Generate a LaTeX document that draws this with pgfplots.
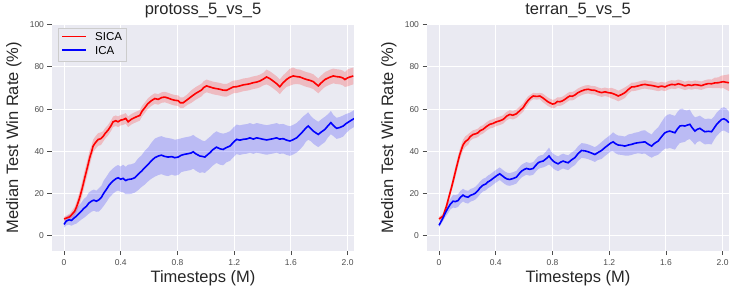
\documentclass[border=0pt]{standalone}
\usepackage{fontspec}
\setmainfont{Liberation Sans}
\usepackage{pgfplots}
\usepackage{pgfplotstable}
\pgfplotsset{compat=1.18}
\definecolor{bgc}{HTML}{EAEAF2}
\definecolor{txt}{HTML}{262626}
\definecolor{tk}{HTML}{4D4D4D}

\pgfplotstableread{
x m e
0 8 1
0.02 8.5 1.2
0.04 9 1.5
0.06 10.5 1.8
0.075 11.7 2
0.09 14 2.5
0.11 18 3
0.13 23 3.5
0.146 27.5 3.5
0.165 32.5 3.5
0.181 37 3.5
0.195 40 3
0.205 42.5 3
0.22 44 3
0.24 45.6 3
0.26 46 3
0.275 47 2.5
0.29 48.5 2.5
0.31 50 2.5
0.33 52 2.5
0.346 54 2.5
0.365 54.5 2.5
0.381 54 2.5
0.40 54.8 2.5
0.416 55 2.5
0.435 55.6 2.5
0.452 54 2.5
0.475 55.2 2.5
0.499 56 2.5
0.515 56.5 2.5
0.534 57 2.5
0.55 59 2.5
0.569 60.6 2.5
0.59 62.5 2.5
0.616 64 2.5
0.64 65 2.5
0.664 64.6 2.5
0.69 65.5 2.5
0.711 65.7 2.5
0.735 65.2 2.5
0.758 64.6 2.5
0.78 64.2 2.5
0.805 64 2.5
0.82 63 2.5
0.84 63 2.5
0.87 64.5 2.5
0.899 66 3
0.93 67.5 3
0.969 69 3
0.985 70.2 3
1.005 71 3
1.028 70.5 3
1.052 70 3
1.075 69.7 3
1.099 69.4 3
1.12 69 3
1.146 68.9 3
1.17 69.7 3
1.193 70.5 3
1.215 70.6 3
1.24 71 3
1.265 71.5 3
1.287 71.7 3
1.31 72 3
1.334 72.5 3
1.358 72.8 3
1.381 73.3 3
1.405 74.2 3
1.428 75.2 3.5
1.45 74.5 3.5
1.475 73.3 3.5
1.50 72 3.5
1.522 70.6 3.5
1.545 72.5 3.5
1.569 74 3.5
1.59 75 4
1.616 75.7 4
1.64 75.4 3.5
1.664 75.2 3.5
1.69 74.5 3.5
1.711 74 3.5
1.735 73.6 3.5
1.758 73 3.5
1.775 72 3.5
1.793 71 3.5
1.815 72.5 3.5
1.84 74 3.5
1.87 75 3.5
1.899 75.7 3.5
1.92 75.4 3.5
1.946 75.2 3.5
1.965 74.8 3.5
1.981 74 3.5
2.0 74.8 4
2.016 75.2 4
2.04 75.7 4
}\psica

\pgfplotstableread{
x m e
0 5.4 1.5
0.016 7 2
0.035 7.6 2.3
0.052 7.3 2.5
0.07 8.4 3
0.087 9.3 3.5
0.105 10.6 3.8
0.122 11.7 4
0.14 13 4.5
0.158 14 4.5
0.175 15.5 5
0.193 16.4 5
0.21 16.9 5
0.228 16.4 5
0.245 17 5.5
0.264 18.3 5.5
0.28 20.2 6
0.299 22 6
0.32 24.2 6
0.346 26 6
0.365 27 6
0.381 27.5 6
0.40 26.8 6
0.416 27.2 6.5
0.435 26.2 6.5
0.452 26.7 7
0.475 26.9 7
0.499 27.5 7
0.52 29 7.5
0.546 30.6 7.5
0.57 32.3 8
0.593 33.8 8
0.615 35.5 8.5
0.64 37 9
0.665 37.8 9
0.687 38.2 9
0.71 37.6 9
0.734 37.3 9
0.76 37.5 8.5
0.781 37 8.5
0.805 37.3 8.5
0.828 38.2 8
0.85 38.6 8
0.875 38.9 8
0.895 39.2 8
0.911 39.8 8
0.93 38.8 8
0.958 37.8 8
0.975 37.6 7.5
0.993 37.3 7.5
1.01 38.3 7.5
1.028 39.3 7.5
1.05 40.8 7.5
1.075 42 7.5
1.1 41.2 7.5
1.122 40.9 7.5
1.145 41.8 7
1.17 42.5 7
1.195 44.3 7
1.217 45.7 7
1.24 45.3 7
1.264 45.7 7
1.29 45.9 7
1.311 46.4 7
1.335 45.8 7
1.358 46.4 7
1.38 46.1 7
1.405 45.7 7
1.43 45.4 7
1.452 45.7 7
1.475 46 7
1.499 46.4 7
1.52 45.8 7
1.546 46 7
1.57 45.3 7
1.593 44.9 7
1.615 45.5 7
1.64 46.4 7
1.665 48 7
1.687 49.6 7
1.705 51 6.5
1.722 52 6.5
1.74 50.8 6
1.758 49.6 6
1.775 48.8 6
1.793 48 6
1.815 49.2 6
1.84 50.4 6
1.86 52 5.5
1.882 53.6 5.5
1.9 52.2 5
1.922 50.9 5
1.945 51.3 5
1.969 52 5
1.99 53.2 4.5
2.016 54.3 4
2.045 55.5 4
}\pica

\pgfplotstableread{
x m e
0 8 1
0.028 9.3 1.2
0.052 14 1.5
0.07 18.5 2
0.087 22.7 2
0.105 27.5 2.5
0.122 32.2 2.5
0.146 38.5 2.5
0.169 43 2.5
0.185 44.6 2.5
0.205 45.6 2.5
0.22 47 2
0.24 48 2
0.258 48.3 2
0.275 48.8 2
0.29 49.8 2
0.31 50.4 2
0.335 51.8 2
0.358 52.8 2
0.38 53.2 2
0.405 54 2
0.43 54.5 2
0.452 55.1 2
0.475 56.6 2
0.499 57.5 2
0.52 57.1 2
0.546 57.8 2
0.57 59.3 2
0.593 60.7 2
0.61 62.5 2
0.628 64.1 2
0.645 65.3 1.5
0.664 66.2 1.5
0.69 66 1.5
0.711 66.2 1.5
0.73 65.4 2
0.746 64.6 2
0.765 63.6 2
0.781 63 2
0.8 62.4 2
0.816 62.6 2
0.835 63.6 2
0.852 63.5 2
0.87 63.9 2
0.887 64.6 2
0.905 65.5 2
0.922 66.2 2
0.94 66.1 2
0.958 66.7 2
0.98 67.8 2
1.005 68.6 2
1.03 69.2 2
1.052 69.4 2
1.075 69 2
1.099 68.9 2
1.12 68.3 2
1.146 67.8 2
1.17 68.2 2
1.193 67.8 2
1.215 67.6 2.5
1.24 67 2.5
1.264 66.2 2.5
1.29 67 2.5
1.311 67.8 2.5
1.335 69.3 2
1.358 70.5 2
1.38 70.6 2
1.405 71 2
1.43 71.5 2
1.452 71.7 2
1.475 71.4 2
1.499 71.2 2
1.52 70.9 2
1.546 70.5 2
1.57 70.9 2
1.593 70.5 2
1.615 71.2 2
1.64 71.7 2
1.665 71.5 2
1.687 72 2
1.71 71.6 2
1.734 71 2
1.76 71.5 2
1.781 71.2 2
1.805 71.6 2
1.828 71.4 2
1.85 71.1 2
1.875 71.7 2
1.9 72.1 2
1.922 72 2
1.945 72.4 2.5
1.969 72.5 2.5
1.99 72.8 3
2.005 73 3
2.025 72.7 3.5
2.045 72.5 4
}\tsica

\pgfplotstableread{
x m e
0 5 1
0.028 8.5 1.5
0.045 11 2
0.064 13.3 2.5
0.08 15 2.5
0.099 16.4 3
0.115 16.2 3
0.134 16.7 3
0.15 18.2 3
0.169 19.3 3
0.185 18.6 3
0.205 18.3 3
0.222 19.2 3
0.24 19.6 3
0.258 20.3 3
0.275 21.5 3
0.29 22.8 3
0.31 24 3
0.328 24.5 3
0.346 25.6 3
0.362 26.2 3
0.381 27.2 3
0.405 28.4 3
0.428 29.4 3
0.445 28.5 3
0.464 27.5 3
0.48 26.9 3
0.499 26.7 3
0.52 27.1 3
0.546 27.8 3
0.565 29.4 3
0.581 30.6 3
0.6 31.4 3
0.616 31.9 3
0.64 31.5 3
0.664 31.9 3
0.68 33.2 3
0.699 34.6 3
0.715 35.1 3
0.734 35.4 3
0.755 36.5 3.5
0.776 37.8 4
0.79 36.5 3.5
0.805 35.4 3.5
0.82 34.7 3.5
0.84 34.1 3.5
0.858 34.9 3.5
0.875 35.4 3.5
0.89 35 3.5
0.911 34.6 3.5
0.935 36 3.5
0.958 37 3.5
0.98 38.9 3.5
1.005 40.4 3.5
1.03 40.2 3.5
1.052 39.8 3.5
1.075 39.2 3.5
1.099 38.5 3.5
1.12 39.4 3.5
1.146 40.4 4
1.17 41.8 4
1.193 43 4
1.21 43.9 4
1.228 44.5 4.5
1.245 43.6 4.5
1.264 43 4.5
1.29 42.8 4.5
1.311 42.5 4.5
1.335 43 5
1.358 43.3 5
1.38 43.8 5
1.405 44.1 5
1.43 44.3 5.5
1.452 44.5 5.5
1.475 43.4 5.5
1.499 42.5 5.5
1.52 43.8 6
1.546 44.9 6.5
1.57 47 7
1.593 48.8 7.5
1.61 49.3 8
1.628 49.6 8
1.645 49.2 8
1.664 48.8 8
1.68 50.5 8
1.699 52 8
1.715 52.2 8
1.734 52 7.5
1.75 52.4 7
1.769 52.8 7
1.785 51.2 6.5
1.805 49.6 6.5
1.82 50.4 6
1.84 50.9 6
1.858 50 6
1.875 49.3 6
1.9 49.5 6
1.922 49.3 6
1.94 51 5.5
1.958 52.8 5.5
1.975 54 5.5
1.993 55.1 5.5
2.01 55.4 5.5
2.028 54.7 5.5
2.045 53.6 5
}\tica

% band polygons: upper edge forward, lower edge backward
\newcommand{\makeband}[2]{%
  \pgfplotstablesort[sort key=x, sort cmp=float <]{#2}{#1}%
  \pgfplotstablesort[sort key=x, sort cmp=float >]{\tmpbandrev}{#1}%
  \pgfplotstablecreatecol[expr={\thisrow{m}+\thisrow{e}}]{b}{#2}%
  \pgfplotstablecreatecol[expr={\thisrow{m}-\thisrow{e}}]{b}{\tmpbandrev}%
  \pgfplotstablevertcat{#2}{\tmpbandrev}%
}
\makeband{\psica}{\psicaband}
\makeband{\pica}{\picaband}
\makeband{\tsica}{\tsicaband}
\makeband{\tica}{\ticaband}

\newcommand{\legline}[1]{\textcolor{#1}{\rule[3.3pt]{24pt}{1.6pt}}\hspace{9pt}}

\pgfplotsset{
  myax/.style={
    scale only axis, width=302pt, height=226pt,
    xmin=-0.085, xmax=2.045, ymin=-7, ymax=100,
    axis background/.style={fill=bgc},
    axis line style={draw=none},
    grid=major, grid style={white, line width=1pt},
    xtick={0,0.4,0.8,1.2,1.6,2.0},
    xticklabels={0,0.4,0.8,1.2,1.6,2.0},
    ytick={0,20,40,60,80,100},
    xtick pos=left, ytick pos=left,
    tick align=outside, major tick length=4.5pt,
    tick style={tk, line width=0.8pt},
    /pgf/number format/assume math mode=true,
    ticklabel style={font=\fontsize{8.5}{10}\selectfont, text=tk},
    xticklabel style={yshift=-1pt},
    title style={font=\fontsize{16.5}{18}\selectfont, text=txt, at={(axis description cs:0.5,1.035)}, anchor=center},
    xlabel style={font=\fontsize{16.5}{18}\selectfont, text=txt, at={(axis description cs:0.5,-0.12)}, anchor=center},
    ylabel style={font=\fontsize{16.5}{18}\selectfont, text=txt, at={(axis description cs:-0.126,0.5)}, anchor=center},
    xlabel={Timesteps (M)},
    ylabel={Median Test Win Rate (\%)},
  }
}

\begin{document}
\begin{tikzpicture}
\begin{axis}[myax, at={(52pt,47pt)}, anchor=south west,
  title={protoss\_5\_vs\_5},
  legend cell align=left,
  legend style={at={(axis description cs:0.02,0.987)}, anchor=north west,
    fill=bgc, draw=black!20, font=\fontsize{11.5}{13}\selectfont,
    inner xsep=2pt, inner ysep=3pt},
]
\addlegendimage{empty legend}
\addlegendentry{\legline{red}SICA}
\addlegendimage{empty legend}
\addlegendentry{\legline{blue}ICA}
\addplot[fill=red, fill opacity=0.2, draw=none, forget plot] table[x=x, y=b] {\psicaband};
\addplot[fill=blue, fill opacity=0.2, draw=none, forget plot] table[x=x, y=b] {\picaband};
\addplot[red, line width=1.6pt, forget plot] table[x=x, y=m] {\psica};
\addplot[blue, line width=1.6pt, forget plot] table[x=x, y=m] {\pica};
\end{axis}

\begin{axis}[myax, at={(427pt,47pt)}, anchor=south west,
  title={terran\_5\_vs\_5},
]
\addplot[fill=red, fill opacity=0.2, draw=none, forget plot] table[x=x, y=b] {\tsicaband};
\addplot[fill=blue, fill opacity=0.2, draw=none, forget plot] table[x=x, y=b] {\ticaband};
\addplot[red, line width=1.6pt, forget plot] table[x=x, y=m] {\tsica};
\addplot[blue, line width=1.6pt, forget plot] table[x=x, y=m] {\tica};
\end{axis}
\path[use as bounding box] (0,0) rectangle (732pt,293pt);
\end{tikzpicture}
\end{document}
